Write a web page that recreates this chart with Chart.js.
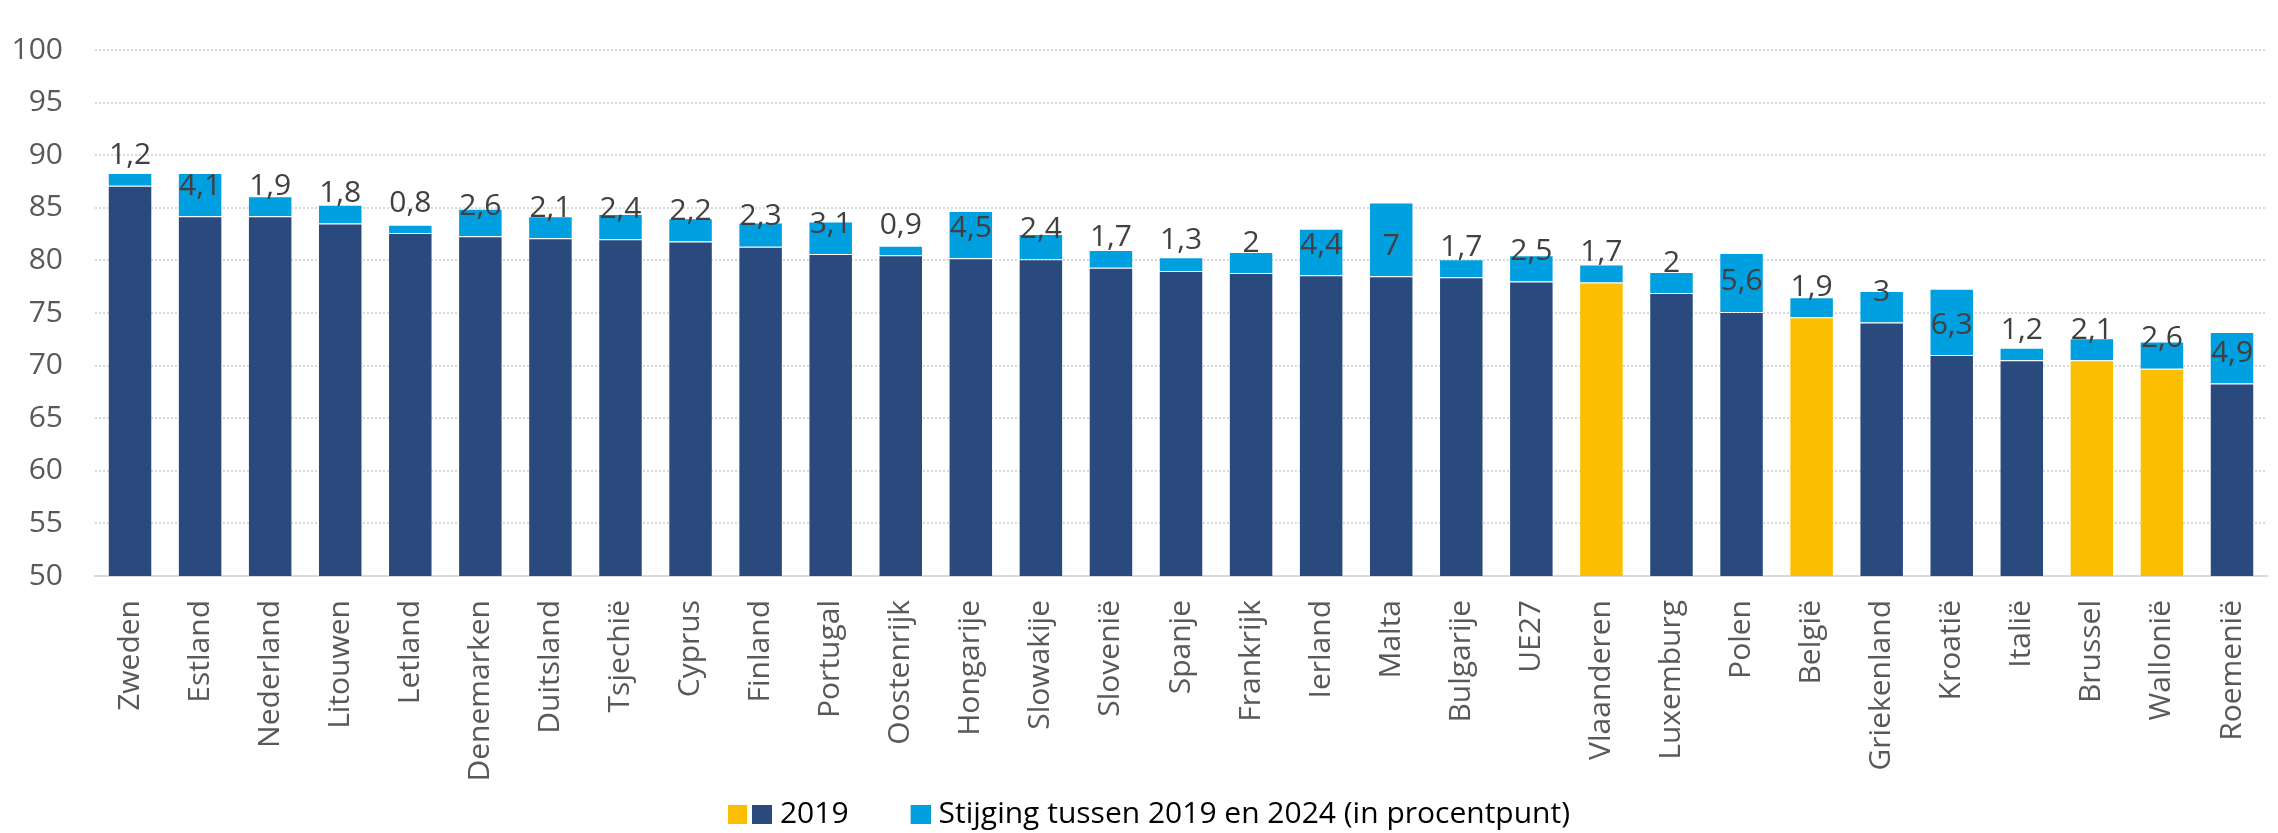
<!DOCTYPE html>
<html>
<head>
<meta charset="utf-8">
<script src="https://cdn.jsdelivr.net/npm/chart.js@4.4.1/dist/chart.umd.min.js"></script>
<style>
  html, body { margin: 0; padding: 0; background: #fff; overflow: hidden; }
  #wrap { position: relative; width: 2292px; height: 833px; }
</style>
</head>
<body>
<div id="wrap"><canvas id="chart"></canvas></div>
<script>
const categories = ["Zweden", "Estland", "Nederland", "Litouwen", "Letland", "Denemarken", "Duitsland", "Tsjechië",
  "Cyprus", "Finland", "Portugal", "Oostenrijk", "Hongarije", "Slowakije", "Slovenië", "Spanje", "Frankrijk",
  "Ierland", "Malta", "Bulgarije", "UE27", "Vlaanderen", "Luxemburg", "Polen", "België", "Griekenland",
  "Kroatië", "Italië", "Brussel", "Wallonië", "Roemenië"];
const regions = ["Vlaanderen", "België", "Brussel", "Wallonië"];
const value2019 = [87.1, 84.2, 84.2, 83.5, 82.6, 82.3, 82.1, 82.0, 81.8, 81.3, 80.6, 80.5, 80.2, 80.1, 79.3, 79.0,
  78.8, 78.6, 78.5, 78.4, 78.0, 77.9, 76.9, 75.1, 74.6, 74.1, 71.0, 70.5, 70.5, 69.7, 68.3];
const increase = [1.2, 4.1, 1.9, 1.8, 0.8, 2.6, 2.1, 2.4, 2.2, 2.3, 3.1, 0.9, 4.5, 2.4, 1.7, 1.3,
  2, 4.4, 7, 1.7, 2.5, 1.7, 2, 5.6, 1.9, 3, 6.3, 1.2, 2.1, 2.6, 4.9];
const yTicks = [50, 55, 60, 65, 70, 75, 80, 85, 90, 95, 100];

const NAVY = "#2A4A7E";
const BLUE = "#009FDF";
const YELLOW = "#FBBE00";

// small canvases used as legend markers (two squares for 2019)
function legendSwatch(colors) {
  const c = document.createElement("canvas");
  c.width = 44;
  c.height = 19;
  const g = c.getContext("2d");
  colors.forEach((col, k) => {
    if (col) {
      g.fillStyle = col;
      g.fillRect(k * 24, 0, k ? 20 : 19, 19);
    }
  });
  return c;
}

const stijgingLabels = {
  id: "stijgingLabels",
  afterDatasetsDraw(chart) {
    const ctx = chart.ctx;
    const meta = chart.getDatasetMeta(2);
    const yScale = chart.scales.y;
    ctx.save();
    ctx.font = '30px "Open Sans"';
    ctx.fillStyle = "#404040";
    ctx.textAlign = "center";
    ctx.textBaseline = "middle";
    meta.data.forEach((bar, i) => {
      const y = yScale.getPixelForValue(value2019[i]) - 30;
      ctx.fillText(String(increase[i]).replace(".", ","), bar.x, y);
    });
    ctx.restore();
  }
};

new Chart(document.getElementById("chart"), {
  type: "bar",
  data: {
    labels: categories,
    datasets: [
      {
        label: "2019 (BE)",
        data: categories.map((c, i) => (regions.includes(c) ? value2019[i] : null)),
        backgroundColor: YELLOW,
        stack: "a"
      },
      {
        label: "2019",
        data: categories.map((c, i) => (regions.includes(c) ? null : value2019[i])),
        backgroundColor: NAVY,
        stack: "a"
      },
      {
        label: "Stijging tussen 2019 en 2024 (in procentpunt)",
        data: increase,
        backgroundColor: BLUE,
        stack: "a"
      }
    ]
  },
  options: {
    responsive: true,
    maintainAspectRatio: false,
    animation: false,
    datasets: {
      bar: { categoryPercentage: 1, barPercentage: 0.635, borderWidth: 1, borderColor: "rgba(255,255,255,0.3)" }
    },
    layout: { padding: { top: 25, left: 13, right: 0, bottom: -6 } },
    scales: {
      x: {
        stacked: true,
        grid: { display: false, drawTicks: false },
        border: { display: true, color: "#D9D9D9", width: 2 },
        ticks: {
          color: "#595959",
          font: { family: "Open Sans", size: 30 },
          minRotation: 90,
          maxRotation: 90,
          padding: 24,
          autoSkip: false
        },
        afterFit: (s) => { s.height = 223; }
      },
      y: {
        stacked: true,
        min: yTicks[0],
        max: yTicks[yTicks.length - 1],
        afterBuildTicks: (s) => { s.ticks = yTicks.map((v) => ({ value: v })); },
        afterFit: (s) => { s.width = 82; },
        grid: { color: "#D9D9D9", lineWidth: 2, drawTicks: false },
        border: { display: false, dash: [2, 2] },
        ticks: {
          color: "#595959",
          font: { family: "Open Sans", size: 30 },
          padding: 32
        }
      }
    },
    plugins: {
      tooltip: { enabled: false },
      legend: {
        position: "bottom",
        labels: {
          usePointStyle: true,
          pointStyleWidth: 30,
          padding: 0,
          color: "#595959",
          font: { family: "Open Sans", size: 30 },
          generateLabels: () => [
            { text: "2019", pointStyle: legendSwatch([YELLOW, NAVY]), lineWidth: 0, hidden: false, datasetIndex: 1 },
            { text: "", pointStyle: legendSwatch([]), lineWidth: 0, hidden: false },
            { text: "Stijging tussen 2019 en 2024 (in procentpunt)", pointStyle: legendSwatch([null, BLUE]), lineWidth: 0, hidden: false, datasetIndex: 2 }
          ]
        }
      }
    }
  },
  plugins: [stijgingLabels]
});
</script>
</body>
</html>
